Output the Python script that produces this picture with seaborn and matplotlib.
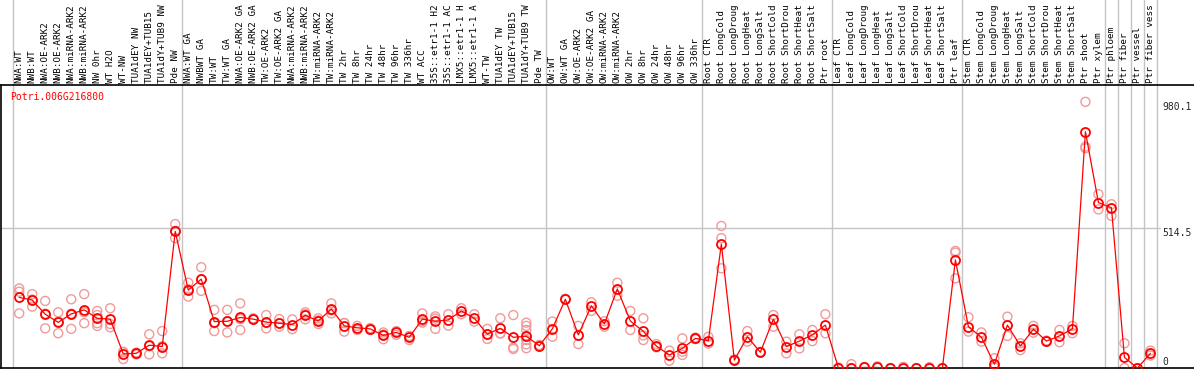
import matplotlib
matplotlib.use("Agg")
import matplotlib.pyplot as plt
import matplotlib.transforms as mtransforms
import numpy as np
import pandas as pd
import seaborn as sns

gene_id = "Potri.006G216800"

# names as they show in the header (long ones are cut to 14 characters)
sample_labels = [
    # NW
    "NWA:WT", "NWB:WT", "NWA:OE-ARK2", "NWB:OE-ARK2", "NWA:miRNA-ARK2",
    "NWB:miRNA-ARK2", "NW 0hr", "WT H2O", "WT-NW", "TUA1dEY NW",
    "TUA1dEY+TUB15", "TUA1dY+TUB9 NW", "Pde NW",
    # TW
    "NWA:WT GA", "NWBWT GA", "TW:WT", "TW:WT GA", "NWA:OE-ARK2 GA",
    "NWB:OE-ARK2 GA", "TW:OE-ARK2", "TW:OE-ARK2 GA", "NWA:miRNA-ARK2",
    "NWB:miRNA-ARK2", "TW:miRNA-ARK2", "TW:miRNA-ARK2", "TW 2hr", "TW 8hr",
    "TW 24hr", "TW 48hr", "TW 96hr", "TW 336hr", "WT ACC", "35S::etr1-1 H2",
    "35S::etr1-1 AC", "LMX5::etr1-1 H", "LMX5::etr1-1 A", "WT-TW",
    "TUA1dEY TW", "TUA1dEY+TUB15", "TUA1dY+TUB9 TW", "Pde TW",
    # OW
    "OW:WT", "OW:WT GA", "OW:OE-ARK2", "OW:OE-ARK2 GA", "OW:miRNA-ARK2",
    "OW:miRNA-ARK2", "OW 2hr", "OW 8hr", "OW 24hr", "OW 48hr", "OW 96hr",
    "OW 336hr",
    # root
    "Root CTR", "Root LongCold", "Root LongDroug", "Root LongHeat",
    "Root LongSalt", "Root ShortCold", "Root ShortDrou", "Root ShortHeat",
    "Root ShortSalt", "Ptr root",
    # leaf
    "Leaf CTR", "Leaf LongCold", "Leaf LongDroug", "Leaf LongHeat",
    "Leaf LongSalt", "Leaf ShortCold", "Leaf ShortDrou", "Leaf ShortHeat",
    "Leaf ShortSalt", "Ptr leaf",
    # stem
    "Stem CTR", "Stem LongCold", "Stem LongDroug", "Stem LongHeat",
    "Stem LongSalt", "Stem ShortCold", "Stem ShortDrou", "Stem ShortHeat",
    "Stem ShortSalt", "Ptr shoot", "Ptr xylem",
    "Ptr phloem", "Ptr fiber", "Ptr vessel", "Ptr fiber vess",
]

group_sizes = [13, 28, 12, 10, 10, 11, 1, 1, 1, 1]

mean_values = [
    260, 250, 198, 168, 199, 214, 183, 180, 52, 54, 84, 79, 503,
    287, 327, 171, 172, 186, 180, 169, 165, 160, 194, 173, 217, 155, 148,
    144, 120, 131, 113, 180, 172, 177, 210, 183, 125, 146, 113, 117, 82,
    144, 253, 122, 229, 162, 291, 173, 135, 81, 48, 72, 109,
    101, 456, 29, 115, 58, 180, 79, 99, 122, 158,
    1, 0, 2, 2, 0, 0, 0, 1, 0, 398,
    152, 113, 14, 158, 81, 143, 99, 118, 144, 870, 609,
    590, 39, 0, 54,
]

rep_values = [
    [293, 281, 201], [272, 226, 252], [247, 146, 200], [205, 128, 170],
    [253, 144, 200], [272, 165, 205], [210, 165, 155, 195], [220, 162, 150],
    [60, 33, 58], [56, 50, 56], [124, 50, 80], [136, 80, 54], [530, 478, 505],
    [314, 263, 290], [371, 284, 326], [214, 136, 165], [214, 131, 172],
    [238, 140, 180], [178, 183], [195, 146, 167], [180, 152, 165],
    [179, 143], [205, 179, 198], [183, 162, 175], [238, 201, 212],
    [165, 134, 166], [155, 140], [147, 140], [131, 106, 123], [136, 122],
    [103, 118], [201, 167, 172], [190, 144, 182], [198, 156], [220, 198],
    [198, 171], [144, 107, 124], [183, 128, 127], [195, 75, 70],
    [167, 155, 140, 118, 103, 87, 73], [79, 85],
    [171, 115], [255], [155, 88], [242, 210], [172, 152], [314, 266],
    [210, 140], [183, 103, 120], [88, 76], [64, 27], [109, 48, 60], [112, 106],
    [115, 90], [523, 478, 367], [28, 32], [136, 97], [60, 57], [195, 152],
    [97, 54], [124, 72], [140, 99], [198, 128],
    [2], [14, 0], [4], [6], [0], [4], [0], [3], [0], [431, 425, 330],
    [187, 134], [131, 97], [36, 2], [189, 118], [91, 66], [155, 130],
    [101, 97], [140, 95], [155, 128], [980, 815, 809], [640, 584],
    [603, 560], [91, 0], [0], [64, 46],
]

y_ticks = [0, 514.5, 980.1]

means = pd.DataFrame({"pos": np.arange(len(mean_values)), "value": mean_values})
reps = pd.DataFrame(
    [(i, v) for i, vals in enumerate(rep_values) for v in vals],
    columns=["pos", "value"],
)

sns.set_theme(style="white")
plt.rcParams["font.family"] = ["DejaVu Sans Mono"]

W, H = 1194, 370
fig = plt.figure(figsize=(W / 100, H / 100), dpi=100)
ax = fig.add_axes([1 / W, 2 / H, (W - 1) / W, 283 / H])

grid_gray = "#c4c4c4"
ax.axhline(y_ticks[1], xmax=(1160 - 1) / (W - 1), color=grid_gray, lw=1.0, zorder=0)

# group separators run up through the label header
boundaries = np.concatenate([[0], np.cumsum(group_sizes)]) - 0.5
for b in boundaries:
    ax.axvline(b, ymin=0, ymax=1 + 85 / 283, color=grid_gray, lw=1.0,
               clip_on=False, zorder=0)

sns.scatterplot(data=reps, x="pos", y="value", ax=ax, marker="o", s=42,
                facecolor="none", edgecolor="#f09a9a", linewidth=1.0,
                zorder=2, legend=False)
sns.lineplot(data=means, x="pos", y="value", ax=ax, color="red", lw=0.9,
             marker="o", markersize=6.5, markerfacecolor="none",
             markeredgecolor="red", markeredgewidth=1.3, zorder=3)

ax.set_xlim(-1.4, 90.35)
ax.set_ylim(0, 1042)
ax.set_xticks([])
ax.set_yticks([])
ax.set_xlabel("")
ax.set_ylabel("")

for side in ["left", "top", "bottom"]:
    ax.spines[side].set_color("black")
    ax.spines[side].set_linewidth(1.2)
ax.spines["right"].set_visible(False)

# sample names in the header
trans = mtransforms.blended_transform_factory(ax.transData, ax.transAxes)
for i, lab in enumerate(sample_labels):
    ax.text(i, 1 + 2 / 283, lab, transform=trans, rotation=90, ha="center",
            va="bottom", fontsize=6.7, color="black", clip_on=False)

ax.text(9 / (W - 1), (368 - 97) / 283, gene_id, transform=ax.transAxes,
        color="red", fontsize=7, ha="left", va="center")

tx = (1162 - 1) / (W - 1)
ytrans = mtransforms.blended_transform_factory(ax.transAxes, ax.transData)
ax.text(tx, y_ticks[2], f"{y_ticks[2]}", transform=ytrans, fontsize=7, va="top")
ax.text(tx, y_ticks[1], f"{y_ticks[1]}", transform=ytrans, fontsize=7, va="top")
ax.text(tx, y_ticks[0] + 4, "0", transform=ytrans, fontsize=7, va="bottom")

fig.savefig("out.png", dpi=100, facecolor="white")
